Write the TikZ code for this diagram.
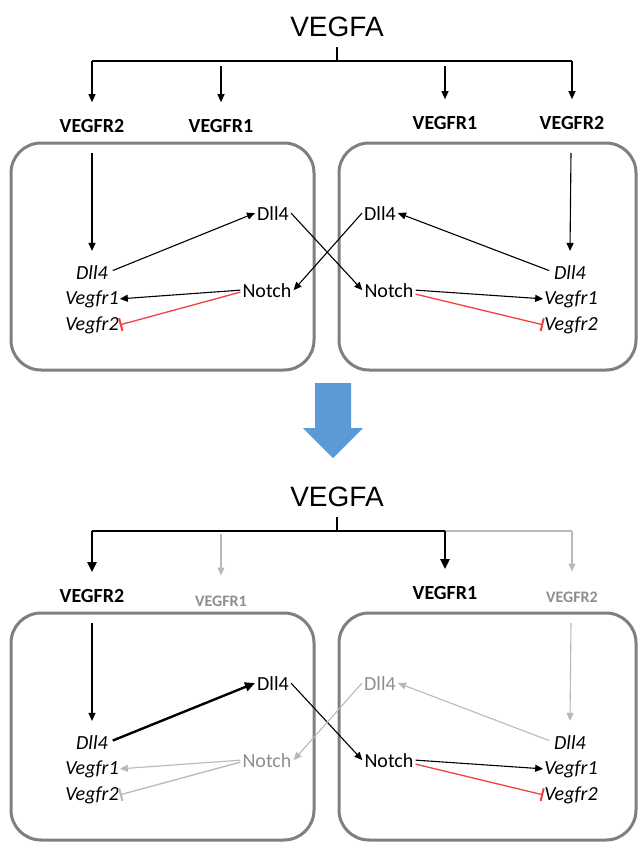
\documentclass[tikz,border=0pt]{standalone}
\usepackage{fontspec}
\setmainfont{Carlito}
\newfontfamily\headfont{Liberation Sans}
\usetikzlibrary{arrows.meta}
\usetikzlibrary{positioning}
\definecolor{boxgray}{HTML}{7F7F7F}
\definecolor{offgray}{HTML}{B9B9B9}
\definecolor{offtext}{HTML}{8E8E8E}
\definecolor{inhred}{HTML}{F04040}
\definecolor{downblue}{HTML}{5B9BD5}
\newcommand{\labsize}{\fontsize{20}{24}\selectfont}
\tikzset{ligand/.style={font=\headfont\fontsize{28}{32}\selectfont, inner sep=0pt},
        rcpt/.style={font=\labsize\bfseries, inner sep=0pt},
        rcptoff/.style={font=\fontsize{16}{18}\selectfont\bfseries, text=offtext, inner sep=0pt},
        gene/.style={font=\labsize\itshape, inner sep=1pt, anchor=base},
        prot/.style={font=\labsize, inner sep=2pt, anchor=base},
        cell/.style={draw=boxgray, line width=3pt, rounded corners=30pt},
        sig/.style={-{Triangle[length=8pt,width=7pt]}, line width=1.1pt},
        strong/.style={-{Triangle[length=10pt,width=9pt]}, line width=2.4pt},
        inhib/.style={-{Bar[width=13pt, line width=2pt]}, draw=inhred, line width=1.3pt},
        off/.style={draw=offgray, color=offgray},
}

\begin{document}
\begin{tikzpicture}[x=1pt, y=-1pt]
      \useasboundingbox (0,0) rectangle (640,844);

      % BEFORE
      \node[ligand] (vegfa) at (337,27) {VEGFA};
      \coordinate (busL) at (92,61);
      \coordinate (busR) at (572,61);
      \coordinate (tapL) at (221,66);
      \coordinate (tapR) at (445,66);
      \node[rcpt] (r2L) at (92,126) {VEGFR2};
      \node[rcpt] (r1L) at (221,126) {VEGFR1};
      \node[rcpt] (r1R) at (445,123) {VEGFR1};
      \node[rcpt] (r2R) at (572,123) {VEGFR2};
      \draw[line width=1.1pt] ([yshift=-10pt]vegfa.south) -- (vegfa.south |- busL);
      \draw[line width=1.1pt] (busL) -- (busR);
      \draw[sig] (busL) -- ([yshift=17pt]r2L.north);
      \draw[sig] (tapL) -- ([yshift=17pt]r1L.north);
      \draw[sig] (tapR) -- ([yshift=17pt]r1R.north);
      \draw[sig] (busR) -- ([yshift=17pt]r2R.north);

      \node[cell, minimum width=303pt, minimum height=227pt] (cellL) at (162.5,256.5) {};
      \node[cell, minimum width=297pt, minimum height=227pt] (cellR) at (487.5,256.5) {};

      % left cell
      \coordinate (inL) at (92,153);
      \node[gene] (dllLi) at (92,279) {Dll4};
      \node[gene] (vr1L) at (92,304) {Vegfr1};
      \node[gene] (vr2L) at (92,330) {Vegfr2};
      \node[prot] (dllL) at (273,220) {Dll4};
      \node[prot] (notchL) at (267,297) {Notch};
      % right cell
      \coordinate (inR) at (571,153);
      \node[gene] (dllRi) at (570,279) {Dll4};
      \node[gene] (vr1R) at (571,304) {Vegfr1};
      \node[gene] (vr2R) at (571,330) {Vegfr2};
      \node[prot] (dllR) at (380,220) {Dll4};
      \node[prot] (notchR) at (389,297) {Notch};

      \draw[sig] (inL) -- ([yshift=13pt]dllLi.north);
      \draw[sig, shorten <=4pt] (dllLi.east) -- (dllL.west);
      \draw[sig] (notchL.west) -- (vr1L.east);
      \draw[inhib] ([yshift=-2pt]notchL.west) -- (vr2L.east);
      \draw[sig] (inR) -- ([yshift=13pt]dllRi.north);
      \draw[sig, shorten <=4pt] (dllRi.west) -- (dllR.east);
      \draw[sig] (notchR.east) -- (vr1R.west);
      \draw[inhib] ([yshift=-4pt]notchR.east) -- (vr2R.west);
      % across the cells
      \draw[sig] (dllL.east) -- (notchR.west);
      \draw[sig] (dllR.west) -- (notchL.east);

      % down arrow
      \fill[downblue] (315,383) -- (351,383) -- (351,428) -- (363,428) -- (333,458) -- (303,428) -- (315,428) -- cycle;

      % AFTER
      \begin{scope}[yshift=-470pt]
      \node[ligand] (vegfaB) at (337,27) {VEGFA};
      \coordinate (busLB) at (92,61);
      \coordinate (busMB) at (445,61);
      \coordinate (busRB) at (572,61);
      \coordinate (tapLB) at (221,64);
      \node[rcpt] (r2LB) at (92,126) {VEGFR2};
      \node[rcptoff] (r1LB) at (221,131) {VEGFR1};
      \node[rcpt] (r1RB) at (445,123) {VEGFR1};
      \node[rcptoff] (r2RB) at (572,127) {VEGFR2};
      \draw[off, line width=1.1pt] (busMB) -- (busRB);
      \draw[line width=2.4pt] ([yshift=-10pt]vegfaB.south) -- (vegfaB.south |- busLB);
      \draw[line width=2.4pt] (busLB) -- (busMB);
      \draw[strong] (busLB) -- ([yshift=17pt]r2LB.north);
      \draw[sig, off] (tapLB) -- ([yshift=20pt]r1LB.north);
      \draw[strong] (busMB) -- ([yshift=17pt]r1RB.north);
      \draw[sig, off] (busRB) -- ([yshift=20pt]r2RB.north);

      \node[cell, minimum width=303pt, minimum height=227pt] (cellLB) at (162.5,256.5) {};
      \node[cell, minimum width=297pt, minimum height=227pt] (cellRB) at (487.5,256.5) {};

      % left cell
      \coordinate (inLB) at (92,153);
      \node[gene] (dllLiB) at (92,279) {Dll4};
      \node[gene] (vr1LB) at (92,304) {Vegfr1};
      \node[gene] (vr2LB) at (92,330) {Vegfr2};
      \node[prot] (dllLB) at (273,220) {Dll4};
      \node[prot, text=offtext] (notchLB) at (267,297) {Notch};
      % right cell
      \coordinate (inRB) at (571,153);
      \node[gene] (dllRiB) at (570,279) {Dll4};
      \node[gene] (vr1RB) at (571,304) {Vegfr1};
      \node[gene] (vr2RB) at (571,330) {Vegfr2};
      \node[prot, text=offtext] (dllRB) at (380,220) {Dll4};
      \node[prot] (notchRB) at (389,297) {Notch};

      \draw[sig] (inLB) -- ([yshift=13pt]dllLiB.north);
      \draw[strong, shorten <=4pt] (dllLiB.east) -- (dllLB.west);
      \draw[sig, off] (notchLB.west) -- (vr1LB.east);
      \draw[inhib, off] ([yshift=-2pt]notchLB.west) -- (vr2LB.east);
      \draw[sig, off] (inRB) -- ([yshift=13pt]dllRiB.north);
      \draw[sig, off, shorten <=4pt] (dllRiB.west) -- (dllRB.east);
      \draw[sig] (notchRB.east) -- (vr1RB.west);
      \draw[inhib] ([yshift=-4pt]notchRB.east) -- (vr2RB.west);
      % across the cells
      \draw[sig] (dllLB.east) -- (notchRB.west);
      \draw[sig, off] (dllRB.west) -- (notchLB.east);
      \end{scope}
\end{tikzpicture}
\end{document}
